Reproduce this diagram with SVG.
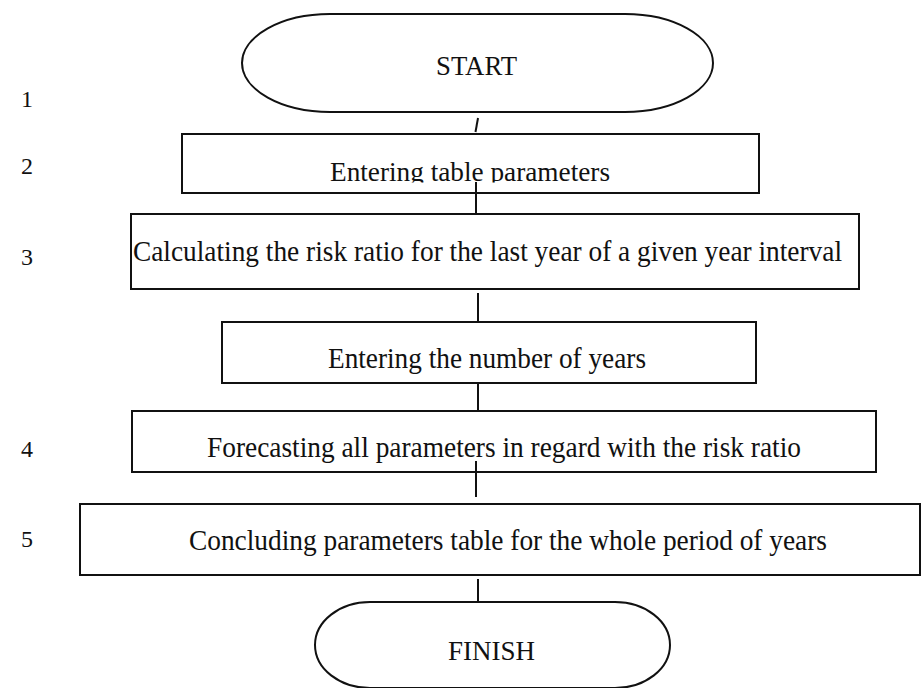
<svg xmlns="http://www.w3.org/2000/svg" width="923" height="688" viewBox="0 0 923 688">
  <style>
    .shape { fill: none; stroke: #111; stroke-width: 2; }
    .link { fill: none; stroke: #111; stroke-width: 2; }
    .label { font-family: "Liberation Serif", "Times New Roman", serif; fill: #111; text-anchor: start; }
    .big { font-size: 30px; }
    .mid { font-size: 27px; }
    .num { font-family: "Liberation Serif", "Times New Roman", serif; font-size: 24px; fill: #111; }
  </style>
  <defs>
    <clipPath id="clipEnterTable">
      <rect x="182" y="134" width="577" height="48.5"/>
    </clipPath>
  </defs>
  <rect width="923" height="688" fill="#fff"/>

  <!-- step numbers in the left margin -->
  <g id="step-numbers">
    <text class="num" x="21" y="107">1</text>
    <text class="num" x="21" y="174">2</text>
    <text class="num" x="21" y="265">3</text>
    <text class="num" x="21" y="457">4</text>
    <text class="num" x="21" y="547">5</text>
  </g>

  <!-- connectors between the blocks -->
  <g id="connectors">
    <line class="link" x1="478" y1="118" x2="475.5" y2="132"/>
    <line class="link" x1="476" y1="182" x2="476" y2="214"/>
    <line class="link" x1="478" y1="293" x2="478" y2="321"/>
    <line class="link" x1="478" y1="384" x2="478" y2="411"/>
    <line class="link" x1="476" y1="461" x2="476" y2="497"/>
    <line class="link" x1="478" y1="579" x2="478" y2="602"/>
  </g>

  <g id="start">
    <rect class="shape" x="242" y="14" width="471" height="98" rx="88" ry="49"/>
    <text class="label mid" x="436" y="75" textLength="81" lengthAdjust="spacingAndGlyphs">START</text>
  </g>

  <g id="enter-table">
    <rect class="shape" x="182" y="134" width="577" height="59"/>
    <text class="label mid" x="330" y="181" textLength="280" lengthAdjust="spacingAndGlyphs" clip-path="url(#clipEnterTable)">Entering table parameters</text>
  </g>

  <g id="risk-ratio">
    <rect class="shape" x="131" y="214" width="728" height="75"/>
    <text class="label big" x="133" y="261" textLength="709" lengthAdjust="spacingAndGlyphs">Calculating the risk ratio for the last year of a given year interval</text>
  </g>

  <g id="enter-years">
    <rect class="shape" x="222" y="322" width="534" height="61"/>
    <text class="label big" x="328" y="368" textLength="318" lengthAdjust="spacingAndGlyphs">Entering the number of years</text>
  </g>

  <g id="forecast">
    <rect class="shape" x="132" y="411" width="744" height="61"/>
    <text class="label big" x="207" y="457" textLength="594" lengthAdjust="spacingAndGlyphs">Forecasting all parameters in regard with the risk ratio</text>
  </g>

  <g id="conclude">
    <rect class="shape" x="80" y="504" width="840" height="71"/>
    <text class="label big" x="189" y="550" textLength="638" lengthAdjust="spacingAndGlyphs">Concluding parameters table for the whole period of years</text>
  </g>

  <g id="finish">
    <rect class="shape" x="315" y="602" width="355" height="86" rx="55" ry="43"/>
    <text class="label mid" x="448" y="660" textLength="87" lengthAdjust="spacingAndGlyphs">FINISH</text>
  </g>
</svg>
